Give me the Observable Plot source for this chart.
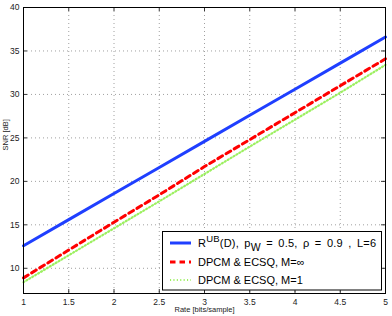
<!DOCTYPE html>
<html>
<head>
<meta charset="utf-8">
<script src="https://cdn.jsdelivr.net/npm/d3@7"></script>
<script src="https://cdn.jsdelivr.net/npm/@observablehq/plot@0.6"></script>
<style>
  html, body { margin: 0; padding: 0; background: #fff; }
  #chart { position: relative; width: 392px; height: 316px; }
</style>
</head>
<body>
<div id="chart"></div>
<script>
const rates = [1, 1.5, 2, 2.5, 3, 3.5, 4, 4.5, 5];
const snrUpperBound = [12.6, 15.6, 18.6, 21.6, 24.6, 27.6, 30.6, 33.6, 36.6];
const snrDpcmInf = [8.9, 12.1, 15.3, 18.45, 21.7, 24.8, 27.9, 31.0, 34.1];
const snrDpcmOne = [8.4, 11.5, 14.6, 17.7, 20.85, 24.0, 27.1, 30.2, 33.4];
const seriesNames = [
  "R^UB(D), p_W = 0.5, ρ = 0.9 , L=6",
  "DPCM & ECSQ, M=∞",
  "DPCM & ECSQ, M=1"
];
const xTicks = [1, 1.5, 2, 2.5, 3, 3.5, 4, 4.5, 5];
const yTicks = [10, 15, 20, 25, 30, 35, 40];
const xTitle = "Rate [bits/sample]";
const yTitle = "SNR [dB]";

const W = 392, H = 316;
const mL = 23, mR = 7, mT = 7, mB = 23;
const innerH = H - mT - mB;
const font = "'Liberation Sans', Arial, sans-serif";

const mk = (vals, k) => rates.map((r, i) => ({rate: r, snr: vals[i], series: k}));
const blue = mk(snrUpperBound, 0), red = mk(snrDpcmInf, 1), green = mk(snrDpcmOne, 2);

const styles = [
  {stroke: "#1f3fff", strokeWidth: 3, dash: "none"},
  {stroke: "#ff0000", strokeWidth: 3, dash: "5.5,4"},
  {stroke: "#9cf060", strokeWidth: 2.2, dash: "1.1,2.3"}
];

const plot = Plot.plot({
  width: W, height: H,
  marginLeft: mL, marginRight: mR, marginTop: mT, marginBottom: mB,
  style: {fontFamily: font, background: "#fff", overflow: "visible"},
  x: {domain: [1, 5]},
  y: {domain: [7.1, 40]},
  marks: [
    Plot.gridX(xTicks, {stroke: "#888", strokeOpacity: 1, strokeDasharray: "1,3", strokeWidth: 0.8}),
    Plot.gridY(yTicks, {stroke: "#888", strokeOpacity: 1, strokeDasharray: "1,3", strokeWidth: 0.8}),
    Plot.tickX(xTicks, {x: d => d, insetTop: innerH - 4, stroke: "#000", strokeWidth: 0.8}),
    Plot.tickX(xTicks, {x: d => d, insetBottom: innerH - 4, stroke: "#000", strokeWidth: 0.8}),
    Plot.tickY(yTicks, {y: d => d, insetRight: W - mL - mR - 4, stroke: "#000", strokeWidth: 0.8}),
    Plot.tickY(yTicks, {y: d => d, insetLeft: W - mL - mR - 4, stroke: "#000", strokeWidth: 0.8}),
    Plot.axisX(xTicks, {tickSize: 0, tickPadding: 5, label: null, fontSize: 8.5, fill: "#222", tickFormat: d => String(d)}),
    Plot.axisY(yTicks, {tickSize: 0, tickPadding: 4, label: null, fontSize: 8.5, fill: "#222", tickFormat: d => String(d)}),
    Plot.line(blue, {x: "rate", y: "snr", stroke: styles[0].stroke, strokeWidth: styles[0].strokeWidth}),
    Plot.line(red, {x: "rate", y: "snr", stroke: styles[1].stroke, strokeWidth: styles[1].strokeWidth, strokeDasharray: styles[1].dash}),
    Plot.line(green, {x: "rate", y: "snr", stroke: styles[2].stroke, strokeWidth: styles[2].strokeWidth, strokeDasharray: styles[2].dash}),
    Plot.frame({stroke: "#000", strokeWidth: 1}),
    Plot.text([xTitle], {frameAnchor: "bottom", dy: 18.5, fontSize: 7.5, fill: "#222"}),
    Plot.text([yTitle], {frameAnchor: "left", dx: -18, rotate: -90, fontSize: 7.5, fill: "#222"})
  ]
});
document.getElementById("chart").appendChild(plot);

// Legend (layout only, content from seriesNames/styles)
const svg = d3.select(plot);
const lg = svg.append("g")
  .attr("font-family", font).attr("font-size", 11).attr("text-anchor", "start");
lg.append("rect").attr("x", 162.5).attr("y", 231.5).attr("width", 219).attr("height", 58.5)
  .attr("fill", "#fff").attr("stroke", "#000").attr("stroke-width", 1);
const rowY = [243, 262, 280];
seriesNames.forEach((name, i) => {
  const s = styles[i];
  lg.append("line").attr("x1", 170).attr("x2", 191).attr("y1", rowY[i]).attr("y2", rowY[i])
    .attr("fill", "none")
    .attr("stroke", s.stroke).attr("stroke-width", s.strokeWidth).attr("stroke-dasharray", s.dash);
  const t = lg.append("text").attr("x", 198).attr("y", rowY[i] + 4).attr("fill", "#000");
  if (i === 0) t.attr("word-spacing", 2.2).attr("letter-spacing", 0.2);
  const parts = name.split(/(\^\w+|_\w+)/).filter(p => p);
  let pendingDy = 0;
  parts.forEach(p => {
    let sp;
    if (p[0] === "^") {
      sp = t.append("tspan").attr("font-size", 9.5).attr("dy", pendingDy - 5).text(p.slice(1));
      pendingDy = 5;
    } else if (p[0] === "_") {
      sp = t.append("tspan").attr("font-size", 10.5).attr("dy", pendingDy + 4).text(p.slice(1));
      pendingDy = -4;
    } else {
      sp = t.append("tspan").text(p);
      if (pendingDy) sp.attr("dy", pendingDy);
      pendingDy = 0;
    }
  });
});
</script>
</body>
</html>
